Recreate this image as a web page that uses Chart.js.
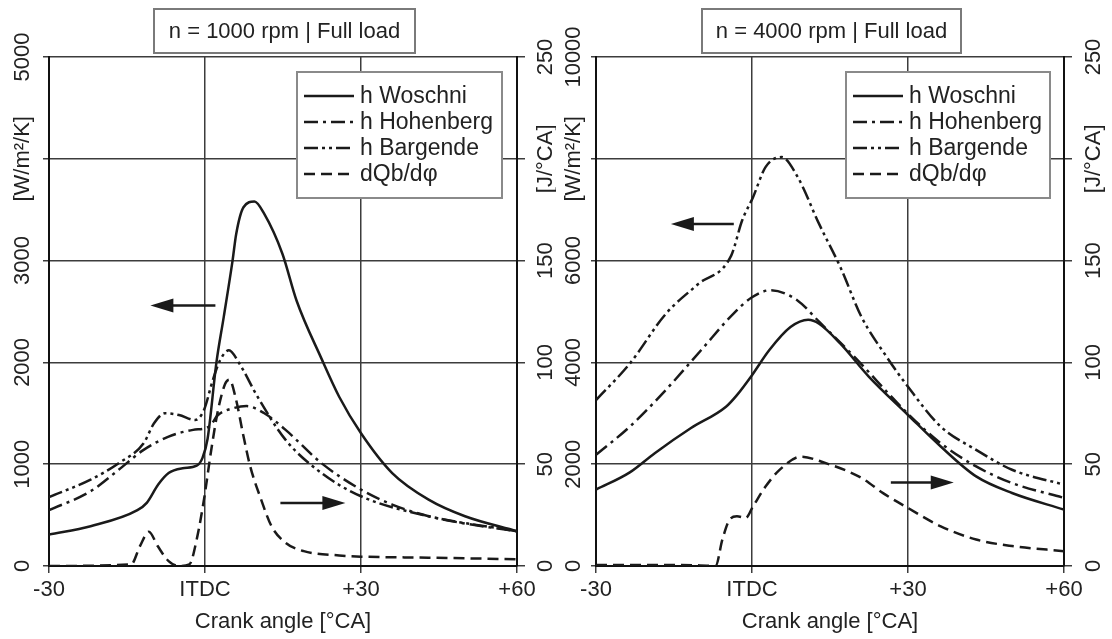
<!DOCTYPE html>
<html>
<head>
<meta charset="utf-8">
<script src="https://cdn.jsdelivr.net/npm/chart.js@4.4.1/dist/chart.umd.min.js"></script>
<style>
  html, body { margin: 0; padding: 0; background: #fff; }
  #wrap { position: relative; width: 1112px; height: 639px; overflow: hidden; }
  .panel { position: absolute; top: 0; width: 556px; height: 639px; }
  #p1 { left: 0; }
  #p2 { left: 556px; }
</style>
</head>
<body>
<div id="wrap">
  <div class="panel" id="p1"><canvas id="c1" width="556" height="639"></canvas></div>
  <div class="panel" id="p2"><canvas id="c2" width="556" height="639"></canvas></div>
</div>
<script>
// x axis
const xTickValues = [-30, 0, 30, 60];
const xTickText = ['-30', 'ITDC', '+30', '+60'];
const seriesNames = ['h Woschni', 'h Hohenberg', 'h Bargende', 'dQb/d\u03c6'];

// n = 1000 rpm  (heat transfer coeff. in W/m²/K, burn rate in J/°CA)
const angW1 = [-30, -22, -13, -11.2, -9, -7, -4.3, -1.6, -0.5, 0.5, 2.2, 3.6, 5.3, 6, 7.4, 9.5, 11.4, 14.9, 17.6, 22.4, 25.8, 30, 36, 43, 50, 60];
const hW1 = [310, 391, 548, 620, 800, 913, 960, 985, 1060, 1250, 2000, 2445, 3000, 3262, 3524, 3580, 3458, 3065, 2608, 2037, 1663, 1304, 913, 652, 489, 342];
const angH1 = [-30, -22, -16.6, -11.8, -7, -2.3, 0.8, 2.5, 5.3, 8, 11.4, 15.5, 22.4, 30, 36, 43, 50, 60];
const hH1 = [548, 734, 945, 1141, 1271, 1337, 1369, 1483, 1548, 1571, 1500, 1337, 1010, 750, 603, 489, 417, 342];
const angB1 = [-30, -22, -16.6, -11.8, -9.8, -7.7, -5, -1.9, -0.2, 1.5, 2.9, 4.6, 6.6, 10.1, 15.5, 22.4, 30, 43, 60];
const hB1 = [678, 848, 1010, 1206, 1402, 1500, 1483, 1434, 1532, 1826, 2021, 2119, 1989, 1663, 1239, 913, 685, 489, 342];
const angQ1 = [-30, -14.2, -12.5, -10.8, -9.1, -7, -5, -3, -1.6, -0.2, 1.2, 2.5, 3.9, 4.7, 6, 7.3, 8.7, 10.8, 12.8, 15.5, 19, 25.8, 30, 43, 60];
const q1 = [0, 0.8, 9.8, 16.8, 9.8, 2.4, 0, 0.8, 13, 32.6, 57, 76.5, 89.6, 91.5, 81.4, 65, 48.9, 32.6, 19.5, 11.4, 7.3, 5.2, 4.6, 4.1, 3.3];

// n = 4000 rpm
const angW4 = [-30, -23.5, -18.7, -11.8, -5, -2.9, 0, 3.3, 7.4, 10.8, 12.9, 17, 22.5, 30, 36.3, 43.1, 50, 60];
const hW4 = [1500, 1839, 2217, 2706, 3130, 3358, 3749, 4238, 4694, 4838, 4760, 4368, 3716, 2967, 2347, 1760, 1434, 1108];
const angH4 = [-30, -23.5, -16.6, -9.8, -3.6, 0, 3.6, 8.8, 12.9, 19.7, 30, 36.3, 43.1, 50, 60];
const hH4 = [2184, 2738, 3456, 4238, 4955, 5279, 5420, 5213, 4800, 4108, 2990, 2412, 1956, 1630, 1337];
const angB4 = [-30, -23.5, -16.6, -10.4, -4, -1.9, 0.2, 2.6, 5.7, 8.8, 12.9, 17, 21.1, 25.9, 30, 36.3, 43.1, 50, 60];
const hB4 = [3260, 3977, 4951, 5535, 6098, 6787, 7246, 7836, 8033, 7639, 6721, 5869, 4885, 4108, 3521, 2738, 2282, 1891, 1597];
const angQ4 = [-30, -20, -10, -7, -5.7, -4.3, -2.9, -1.2, 0.2, 2.6, 5.3, 9.4, 14.2, 21.1, 25.2, 30, 36.3, 43.1, 50, 60];
const q4 = [0.5, 0.5, 0.3, 0, 13, 22.8, 24.4, 23.6, 29.3, 39, 47.2, 53.7, 50.5, 43.2, 35.8, 28.5, 19.5, 13, 9.8, 7.3];

const FAMILY = '"Liberation Sans", Arial, sans-serif';
const FONT = '22px ' + FAMILY;
const LEGEND_FONT = '23px ' + FAMILY;
const INK = '#1a1a1a';
const GRID = '#3c3c3c';
const dashes = [[], [14, 5, 3, 5], [14, 4, 3, 4, 3, 4], [11, 6]];

Chart.defaults.font.family = FAMILY;
Chart.defaults.font.size = 22;
Chart.defaults.color = '#222';

function pts(xs, ys) {
  return xs.map((x, i) => ({ x: x, y: ys[i] }));
}

// y tick labels are drawn rotated, the unit sits where one tick label would be
const rotatedTicks = {
  id: 'rotatedTicks',
  afterDraw(chart, args, opts) {
    const ctx = chart.ctx;
    ctx.save();
    ctx.font = FONT;
    ctx.fillStyle = '#222';
    ctx.textAlign = 'center';
    ctx.textBaseline = 'middle';
    ['y', 'y2'].forEach(id => {
      const sc = chart.scales[id];
      const o = opts[id];
      sc.ticks.forEach(t => {
        const label = t.value === o.titleAt ? o.title : String(t.value);
        ctx.save();
        ctx.translate(o.x, sc.getPixelForValue(t.value));
        ctx.rotate(-Math.PI / 2);
        ctx.fillText(label, 0, 1);
        ctx.restore();
      });
    });
    ctx.restore();
  }
};

const boxTitle = {
  id: 'boxTitle',
  afterDraw(chart, args, o) {
    const ctx = chart.ctx;
    ctx.save();
    ctx.fillStyle = '#fff';
    ctx.fillRect(o.x, o.y, o.w, o.h);
    ctx.strokeStyle = '#7a7a7a';
    ctx.lineWidth = 2;
    ctx.strokeRect(o.x, o.y, o.w, o.h);
    ctx.fillStyle = '#222';
    ctx.font = FONT;
    ctx.textAlign = 'center';
    ctx.textBaseline = 'middle';
    ctx.fillText(o.text, o.x + o.w / 2, o.y + o.h / 2 + 1);
    ctx.restore();
  }
};

const boxLegend = {
  id: 'boxLegend',
  afterDraw(chart, args, o) {
    const ctx = chart.ctx;
    ctx.save();
    ctx.fillStyle = '#fff';
    ctx.fillRect(o.x, o.y, o.w, o.h);
    ctx.strokeStyle = '#8a8a8a';
    ctx.lineWidth = 2;
    ctx.strokeRect(o.x, o.y, o.w, o.h);
    chart.data.datasets.forEach((ds, i) => {
      const yy = o.y + o.first + i * o.step;
      ctx.beginPath();
      ctx.setLineDash(ds.borderDash || []);
      ctx.strokeStyle = ds.borderColor;
      ctx.lineWidth = ds.borderWidth;
      ctx.moveTo(o.x + 7, yy);
      ctx.lineTo(o.x + 57, yy);
      ctx.stroke();
      ctx.setLineDash([]);
      ctx.fillStyle = '#222';
      ctx.font = LEGEND_FONT;
      ctx.textAlign = 'left';
      ctx.textBaseline = 'middle';
      ctx.fillText(ds.label, o.x + 63, yy + 1);
    });
    ctx.restore();
  }
};

const arrows = {
  id: 'arrows',
  afterDatasetsDraw(chart, args, o) {
    const ctx = chart.ctx;
    const xs = chart.scales.x;
    ctx.save();
    ctx.strokeStyle = INK;
    ctx.fillStyle = INK;
    o.list.forEach(a => {
      const ys = chart.scales[a.axis];
      const x0 = xs.getPixelForValue(a.from);
      const x1 = xs.getPixelForValue(a.to);
      const py = ys.getPixelForValue(a.v);
      const dir = Math.sign(x1 - x0);
      ctx.lineWidth = 2.5;
      ctx.beginPath();
      ctx.moveTo(x0, py);
      ctx.lineTo(x1 - dir * 18, py);
      ctx.stroke();
      ctx.beginPath();
      ctx.moveTo(x1, py);
      ctx.lineTo(x1 - dir * 23, py - 7);
      ctx.lineTo(x1 - dir * 23, py + 7);
      ctx.closePath();
      ctx.fill();
    });
    ctx.restore();
  }
};

function makeChart(canvasId, cfg) {
  const series = [
    { x: cfg.angW, y: cfg.hW, axis: 'y' },
    { x: cfg.angH, y: cfg.hH, axis: 'y' },
    { x: cfg.angB, y: cfg.hB, axis: 'y' },
    { x: cfg.angQ, y: cfg.q, axis: 'y2' }
  ];
  const datasets = series.map((s, i) => ({
    label: seriesNames[i],
    data: pts(s.x, s.y),
    yAxisID: s.axis,
    borderColor: INK,
    borderWidth: 2.5,
    borderDash: dashes[i],
    pointRadius: 0,
    fill: false,
    cubicInterpolationMode: 'monotone'
  }));

  return new Chart(document.getElementById(canvasId), {
    type: 'line',
    data: { datasets: datasets },
    options: {
      responsive: false,
      animation: false,
      layout: { padding: { top: 57, left: 0, right: 0, bottom: 0 } },
      plugins: {
        legend: { display: false },
        tooltip: { enabled: false },
        rotatedTicks: cfg.tickOpts,
        boxTitle: cfg.title,
        boxLegend: cfg.legend,
        arrows: { list: cfg.arrows }
      },
      scales: {
        x: {
          type: 'linear',
          min: -30,
          max: 60,
          afterBuildTicks: sc => { sc.ticks = xTickValues.map(v => ({ value: v })); },
          ticks: {
            padding: 4,
            color: '#222',
            callback: v => xTickText[xTickValues.indexOf(v)]
          },
          grid: { color: GRID, lineWidth: 1.5, tickLength: 7 },
          border: { color: '#111', width: 2 },
          title: {
            display: true,
            text: 'Crank angle [\u00b0CA]',
            color: '#222',
            padding: { top: 0, bottom: 4 }
          },
          afterFit: sc => { sc.height = 73; }
        },
        y: {
          min: 0,
          max: cfg.yMax,
          ticks: { stepSize: cfg.yMax / 5, display: false },
          grid: { color: GRID, lineWidth: 1.5, tickLength: cfg.yTick },
          border: { color: '#111', width: 2 },
          afterFit: sc => { sc.width = cfg.yWidth; }
        },
        y2: {
          position: 'right',
          min: 0,
          max: 250,
          ticks: { stepSize: 50, display: false },
          grid: { drawOnChartArea: false, color: GRID, lineWidth: 1.5, tickLength: 8 },
          border: { color: '#111', width: 2 },
          afterFit: sc => { sc.width = cfg.y2Width; }
        }
      }
    },
    plugins: [arrows, rotatedTicks, boxLegend, boxTitle]
  });
}

makeChart('c1', {
  angW: angW1, hW: hW1, angH: angH1, hH: hH1, angB: angB1, hB: hB1, angQ: angQ1, q: q1,
  yMax: 5000, yWidth: 49, y2Width: 39, yTick: 6,
  tickOpts: {
    y: { x: 22, titleAt: 4000, title: '[W/m\u00b2/K]' },
    y2: { x: 545, titleAt: 200, title: '[J/\u00b0CA]' }
  },
  title: { x: 154, y: 9, w: 261, h: 44, text: 'n = 1000 rpm | Full load' },
  legend: { x: 297, y: 72, w: 205, h: 126, first: 24, step: 26 },
  arrows: [
    { axis: 'y', from: 2.0, to: -10.5, v: 2560 },
    { axis: 'y2', from: 14.5, to: 27, v: 31 }
  ]
});

makeChart('c2', {
  angW: angW4, hW: hW4, angH: angH4, hH: hH4, angB: angB4, hB: hB4, angQ: angQ4, q: q4,
  yMax: 10000, yWidth: 40, y2Width: 48, yTick: 5,
  tickOpts: {
    y: { x: 17, titleAt: 8000, title: '[W/m\u00b2/K]' },
    y2: { x: 537, titleAt: 200, title: '[J/\u00b0CA]' }
  },
  title: { x: 146, y: 9, w: 259, h: 44, text: 'n = 4000 rpm | Full load' },
  legend: { x: 290, y: 72, w: 204, h: 126, first: 24, step: 26 },
  arrows: [
    { axis: 'y', from: -3.5, to: -15.6, v: 6720 },
    { axis: 'y2', from: 26.7, to: 38.8, v: 41 }
  ]
});
</script>
</body>
</html>
